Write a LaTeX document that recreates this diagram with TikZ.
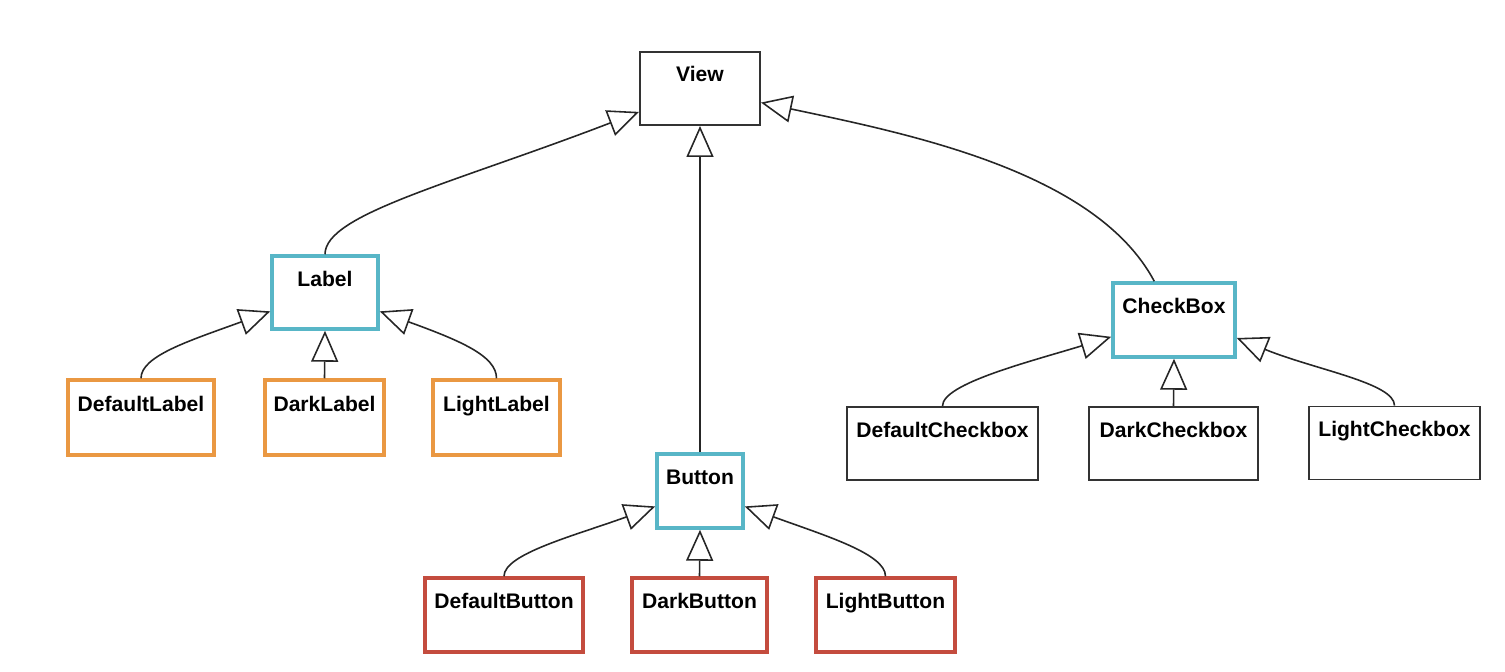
\documentclass[tikz,border=0pt]{standalone}
\usepackage{fontspec}
\setmainfont{Liberation Sans}
\usetikzlibrary{arrows.meta}
\definecolor{clsteal}{RGB}{88,182,199}
\definecolor{clsorange}{RGB}{234,152,66}
\definecolor{clsred}{RGB}{196,76,62}
\tikzset{
	cls/.style={draw=black!80, line width=1.1pt, inner sep=0pt, text height=0.6cm, text depth=0.86cm,
		font=\fontsize{12}{14}\selectfont\bfseries},
	base/.style={cls, draw=clsteal, line width=2pt},
	labelkind/.style={cls, draw=clsorange, line width=2pt},
	buttonkind/.style={cls, draw=clsred, line width=2pt},
	inh/.style={draw=black!85, line width=0.9pt, -{Triangle[open, length=0.62cm, width=0.54cm, line width=0.9pt]}},
	kidcurve/.style={out distance=0.45cm, in distance=1.7cm}
}

\begin{document}
\begin{tikzpicture}[x=0.02cm, y=-0.02cm]
			%%%%% START %%%%%
			
			\useasboundingbox (0, 0) rectangle (1505, 672);
			
			\node[cls, minimum width=2.4cm] (view) at (700, 88.5) {View};
			
			\node[base, minimum width=2.12cm] (label) at (325, 292.5) {Label};
			\node[base, minimum width=1.72cm, minimum height=1.48cm] (button) at (700, 491) {Button};
			\node[base, minimum width=2.44cm, minimum height=1.48cm] (checkbox) at (1174, 320) {CheckBox};
			
			\node[labelkind, minimum width=2.92cm, minimum height=1.5cm] (deflabel) at (141, 417.5) {DefaultLabel};
			\node[labelkind, minimum width=2.38cm, minimum height=1.5cm] (darklabel) at (324.5, 417.5) {DarkLabel};
			\node[labelkind, minimum width=2.54cm, minimum height=1.5cm] (lightlabel) at (496.5, 417.5) {LightLabel};
			
			\node[buttonkind, minimum width=3.16cm, minimum height=1.48cm] (defbutton) at (504, 615) {DefaultButton};
			\node[buttonkind, minimum width=2.7cm, minimum height=1.48cm] (darkbutton) at (699.5, 615) {DarkButton};
			\node[buttonkind, minimum width=2.78cm, minimum height=1.48cm] (lightbutton) at (885.5, 615) {LightButton};
			
			\node[cls, minimum width=3.82cm] (defcheck) at (942.5, 443.5) {DefaultCheckbox};
			\node[cls, minimum width=3.38cm] (darkcheck) at (1173.5, 443.5) {DarkCheckbox};
			\node[cls, minimum width=3.42cm] (lightcheck) at (1394.5, 443) {LightCheckbox};
			
			% to View
			\draw[inh] (label.north) to[out=90, in=201, out distance=0.8cm, in distance=4cm] (view.201);
			\draw[inh] (button.north) -- (view.south);
			\draw[inh] (checkbox.117) to[out=118, in=348, out distance=2.5cm, in distance=3cm] (view.-13);
			
			% to Label
			\draw[inh] (deflabel.north) to[out=90, in=200, kidcurve] (label.199);
			\draw[inh] (darklabel.north) -- (label.south);
			\draw[inh] (lightlabel.north) to[out=90, in=-20, kidcurve] (label.-19);
			
			% to Button
			\draw[inh] (defbutton.north) to[out=90, in=200, kidcurve] (button.199);
			\draw[inh] (darkbutton.north) -- (button.south);
			\draw[inh] (lightbutton.north) to[out=90, in=-20, kidcurve] (button.-19);
			
			% to CheckBox
			\draw[inh] (defcheck.north) to[out=90, in=197, kidcurve] (checkbox.195);
			\draw[inh] (darkcheck.north) -- (checkbox.south);
			\draw[inh] (lightcheck.north) to[out=90, in=-22, kidcurve] (checkbox.-16);
			
			%%%%% END %%%%%
		\end{tikzpicture}
\end{document}
